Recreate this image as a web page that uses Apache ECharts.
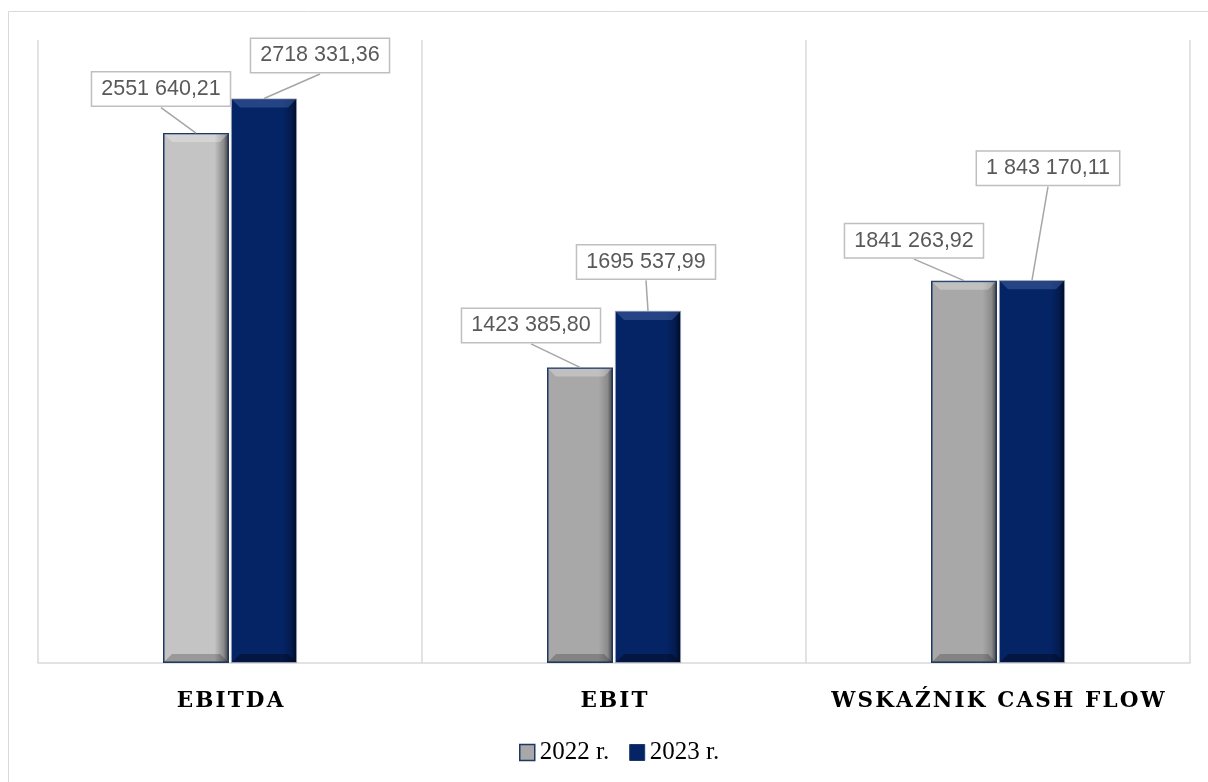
<!DOCTYPE html>
<html><head><meta charset="utf-8">
<script src="https://cdn.jsdelivr.net/npm/echarts@6/dist/echarts.min.js"></script>
<style>html,body{margin:0;padding:0;background:#fff}#c{width:1208px;height:782px}</style>
</head><body><div id="c"></div>
<script>
const categories = ['EBITDA', 'EBIT', 'WSKAŹNIK CASH FLOW'];
const seriesNames = ['2022 r.', '2023 r.'];
const values2022 = [2551640.21, 1423385.80, 1841263.92];
const values2023 = [2718331.36, 1695537.99, 1843170.11];
const labels2022 = ['2551 640,21', '1423 385,80', '1841 263,92'];
const labels2023 = ['2718 331,36', '1695 537,99', '1 843 170,11'];

// callout box centre offsets (px) relative to the top centre of each bar
const calloutOffsets = [
  [[-35, -44], [-49, -42], [-50, -40]],
  [[56, -43], [-2, -49], [16, -112]]
];
const grayFill = ['#c4c4c4', '#a8a8a8', '#a8a8a8'];
const BAR_W = 66, BAR_SHIFT = 34, BOX_H = 37, BEVEL = 8;
const bevelColors = [
  {top: 'rgba(255,255,255,0.28)', bottom: 'rgba(0,0,0,0.22)'},
  {top: 'rgba(120,150,220,0.28)', bottom: 'rgba(0,0,0,0.35)'}
];

function grad(base, mid, dark) {
  return new echarts.graphic.LinearGradient(0, 0, 1, 0, [
    {offset: 0, color: base}, {offset: 0.78, color: base},
    {offset: 0.92, color: mid}, {offset: 1, color: dark}
  ]);
}

function bevelSeries(s, values) {
  return {
    type: 'custom', z: 5, silent: true,
    data: values.map((v, i) => [i, v]),
    renderItem: (params, api) => {
      const top = api.coord([api.value(0), api.value(1)]);
      const base = api.coord([api.value(0), 0]);
      const cx = top[0] + (s === 0 ? -BAR_SHIFT : BAR_SHIFT);
      const x0 = cx - BAR_W / 2 + 1, x1 = cx + BAR_W / 2 - 1;
      const y0 = top[1] + 1, y1 = base[1] - 1, b = BEVEL;
      return {
        type: 'group',
        children: [
          {type: 'polygon', shape: {points: [[x0, y0], [x1, y0], [x1 - b, y0 + b], [x0 + b, y0 + b]]},
           style: {fill: bevelColors[s].top}},
          {type: 'polygon', shape: {points: [[x0, y1], [x1, y1], [x1 - b, y1 - b], [x0 + b, y1 - b]]},
           style: {fill: bevelColors[s].bottom}}
        ]
      };
    }
  };
}

function calloutSeries(s, values, texts) {
  return {
    type: 'custom', z: 10, silent: true,
    data: values.map((v, i) => [i, v]),
    renderItem: (params, api) => {
      const i = api.value(0);
      const p = api.coord([i, api.value(1)]);
      const x = p[0] + (s === 0 ? -BAR_SHIFT : BAR_SHIFT);
      const y = p[1];
      const o = calloutOffsets[s][i];
      const cx = x + o[0], cy = y + o[1];
      return {
        type: 'group',
        children: [
          {type: 'line', shape: {x1: cx, y1: cy + BOX_H / 2, x2: x, y2: y},
           style: {stroke: '#a6a6a6', lineWidth: 1.5}},
          {type: 'text', x: cx, y: cy,
           style: {
             text: texts[i], fill: '#595959', font: '21.5px "Liberation Sans", Arial, sans-serif',
             align: 'center', verticalAlign: 'middle',
             backgroundColor: '#fff', borderColor: '#bfbfbf', borderWidth: 1.5,
             padding: [6, 9, 5, 9]
           }}
        ]
      };
    }
  };
}

const chart = echarts.init(document.getElementById('c'), null, {renderer: 'canvas'});

chart.setOption({
  animation: false,
  backgroundColor: '#fff',
  graphic: [{
    type: 'rect', shape: {x: 8.5, y: 11.5, width: 1210, height: 790},
    style: {fill: 'none', stroke: '#d9d9d9', lineWidth: 1}, silent: true, z: -1
  }],
  grid: {left: 38, right: 18, top: 40, bottom: 119, containLabel: false},
  legend: {
    top: 735, left: 514, itemWidth: 15, itemHeight: 16, itemGap: 20,
    textStyle: {fontSize: 25, color: '#000', fontFamily: '"Liberation Serif", serif'},
    data: [
      {name: seriesNames[0], icon: 'rect', itemStyle: {color: '#a8a8a8', borderColor: '#1f3864', borderWidth: 1.5}},
      {name: seriesNames[1], icon: 'rect', itemStyle: {color: '#052466', borderColor: '#1f3864', borderWidth: 1}}
    ]
  },
  xAxis: {
    type: 'category', data: categories, boundaryGap: true,
    axisLine: {show: true, lineStyle: {color: '#d9d9d9', width: 1.5}},
    axisTick: {show: false},
    splitLine: {show: true, interval: 0, lineStyle: {color: '#d9d9d9', width: 1.5}},
    axisLabel: {
      interval: 0, hideOverlap: false,
      margin: 27, color: '#000', fontSize: 21.5, fontWeight: 'bold',
      fontFamily: '"DejaVu Serif", serif',
      formatter: v => v.split('').join('\u200A')
    }
  },
  yAxis: {type: 'value', min: 0, max: 3000000, show: false, splitLine: {show: false}},
  series: [
    {
      name: seriesNames[0], type: 'bar', barWidth: BAR_W, barGap: '3%',
      data: values2022.map((v, i) => ({
        value: v,
        itemStyle: {color: grad(grayFill[i], '#8a8a8a', '#3a3a3a'), borderColor: '#1f3864', borderWidth: 1.5}
      }))
    },
    {
      name: seriesNames[1], type: 'bar', barWidth: BAR_W,
      data: values2023.map(v => ({
        value: v,
        itemStyle: {color: grad('#052466', '#031a4c', '#000a22'), borderColor: '#9aa3b5', borderWidth: 0.8}
      }))
    },
    bevelSeries(0, values2022),
    bevelSeries(1, values2023),
    calloutSeries(0, values2022, labels2022),
    calloutSeries(1, values2023, labels2023)
  ]
});
</script>
</body></html>
